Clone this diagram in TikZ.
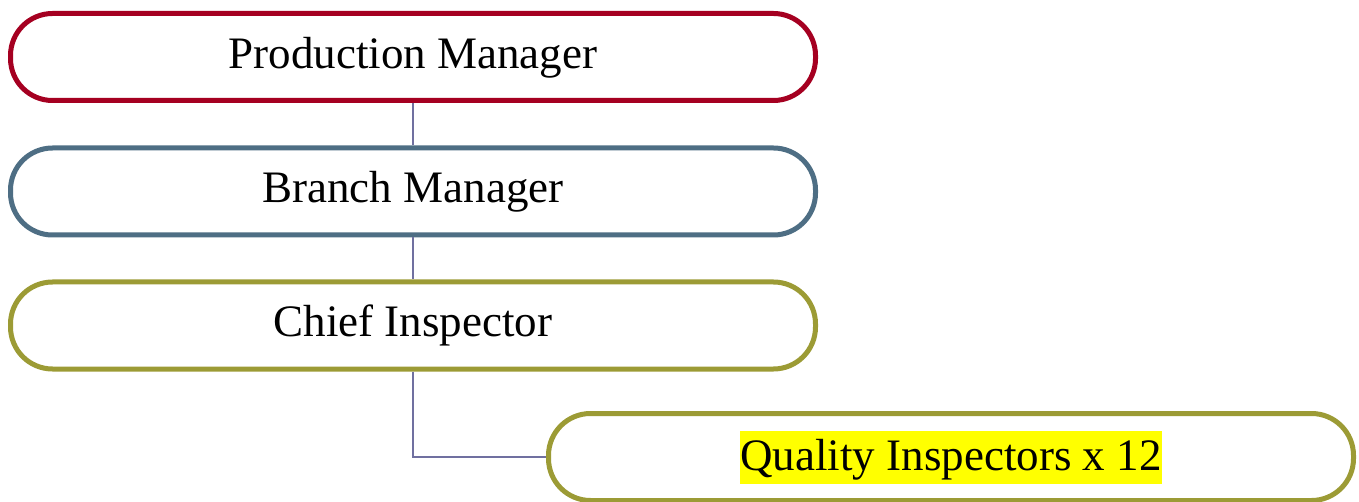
\documentclass[tikz,border=0pt]{standalone}
\usepackage{fontspec}
\setmainfont{Liberation Serif}
\definecolor{cRed}{HTML}{A50021}
\definecolor{cBlue}{HTML}{4E6E84}
\definecolor{cOlive}{HTML}{9C9B35}
\definecolor{cLine}{HTML}{7070A0}
\definecolor{hl}{HTML}{FFFF00}
\begin{document}
\begin{tikzpicture}[x=1pt,y=-1pt,
  pill/.style={draw=#1, line width=5pt, fill=white, rounded corners=42pt,
    minimum width=805pt, minimum height=87pt, inner sep=0pt,
    text height=32pt, text depth=9pt,
    font=\fontsize{45}{52}\selectfont},
  conn/.style={draw=cLine, line width=1.6pt}]
\useasboundingbox (0,0) rectangle (1359,502);
\node[pill=cRed]   (pm) at (413,57)  {Production Manager};
\node[pill=cBlue]  (bm) at (413,191.5) {Branch Manager};
\node[pill=cOlive] (ci) at (413,325.5) {Chief Inspector};
\node[pill=cOlive, text height=40pt, text depth=13pt] (qi) at (951,457) {{\setlength{\fboxsep}{0pt}\colorbox{hl}{\rule[-13pt]{0pt}{53pt}Quality Inspectors x 12}}};
\draw[conn] (pm.south) -- (bm.north);
\draw[conn] (bm.south) -- (ci.north);
\draw[conn] (ci.south) |- (qi.west);
\end{tikzpicture}
\end{document}
